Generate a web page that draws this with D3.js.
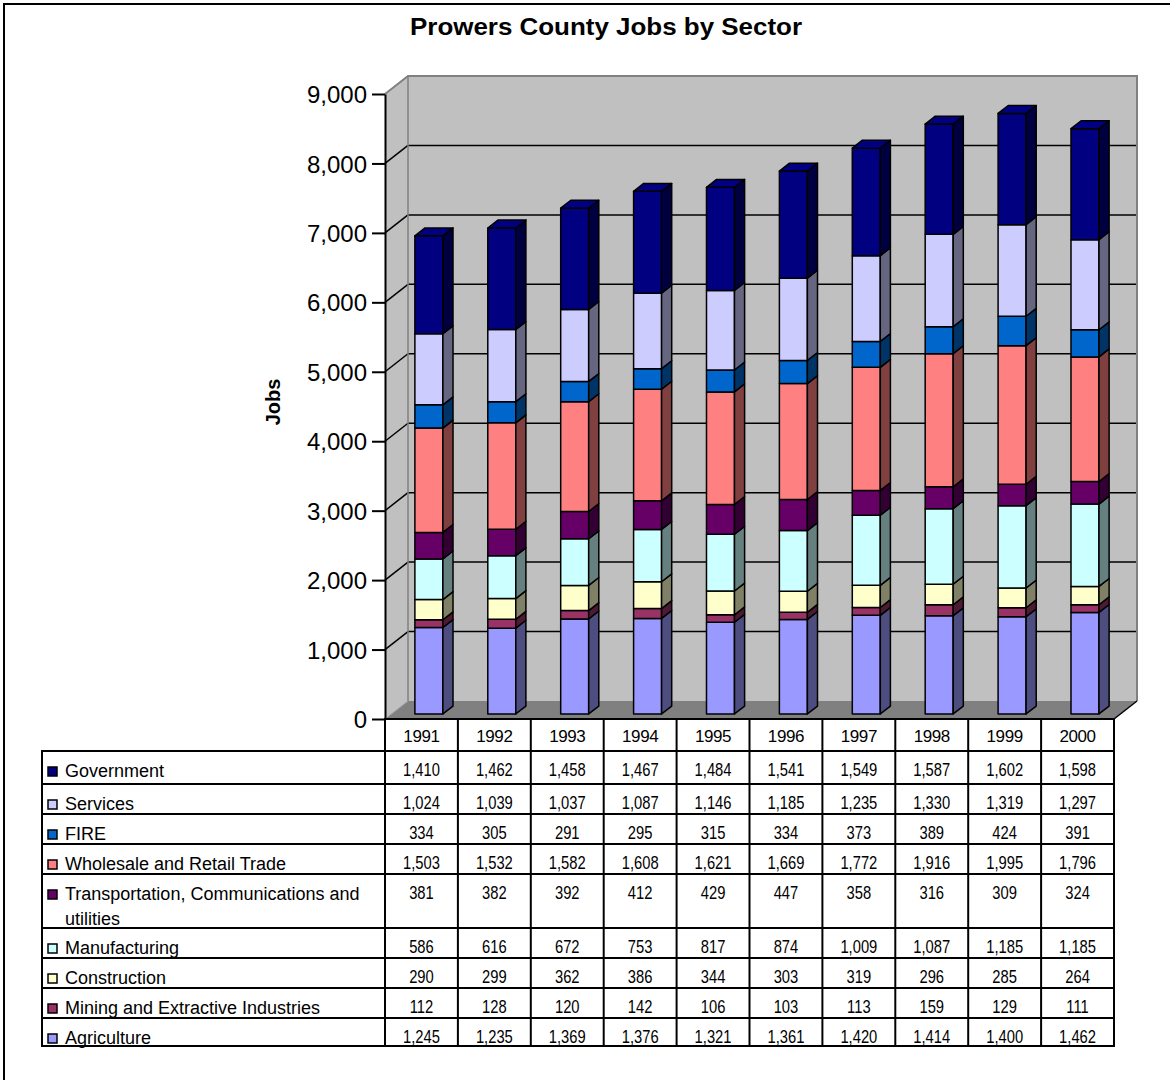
<!DOCTYPE html>
<html>
<head>
<meta charset="utf-8">
<script src="https://cdn.jsdelivr.net/npm/d3@7"></script>
<style>
  body { margin: 0; background: #fff; }
  svg { display: block; font-family: "Liberation Sans", Arial, sans-serif; }
</style>
</head>
<body>
<div id="chart"></div>
<script>
const years = [1991, 1992, 1993, 1994, 1995, 1996, 1997, 1998, 1999, 2000];
const yTicks = [0, 1000, 2000, 3000, 4000, 5000, 6000, 7000, 8000, 9000];

const agriculture    = [1245, 1235, 1369, 1376, 1321, 1361, 1420, 1414, 1400, 1462];
const mining         = [112, 128, 120, 142, 106, 103, 113, 159, 129, 111];
const construction   = [290, 299, 362, 386, 344, 303, 319, 296, 285, 264];
const manufacturing  = [586, 616, 672, 753, 817, 874, 1009, 1087, 1185, 1185];
const transportation = [381, 382, 392, 412, 429, 447, 358, 316, 309, 324];
const wholesale      = [1503, 1532, 1582, 1608, 1621, 1669, 1772, 1916, 1995, 1796];
const fire           = [334, 305, 291, 295, 315, 334, 373, 389, 424, 391];
const services       = [1024, 1039, 1037, 1087, 1146, 1185, 1235, 1330, 1319, 1297];
const government     = [1410, 1462, 1458, 1467, 1484, 1541, 1549, 1587, 1602, 1598];

// stack order, bottom to top
const series = [
  { key: "agriculture", name: "Agriculture", values: agriculture, color: "#9999FF" },
  { key: "mining", name: "Mining and Extractive Industries", values: mining, color: "#993366" },
  { key: "construction", name: "Construction", values: construction, color: "#FFFFCC" },
  { key: "manufacturing", name: "Manufacturing", values: manufacturing, color: "#CCFFFF" },
  { key: "transportation", name: "Transportation, Communications and utilities", values: transportation, color: "#660066" },
  { key: "wholesale", name: "Wholesale and Retail Trade", values: wholesale, color: "#FF8080" },
  { key: "fire", name: "FIRE", values: fire, color: "#0066CC" },
  { key: "services", name: "Services", values: services, color: "#CCCCFF" },
  { key: "government", name: "Government", values: government, color: "#000080" }
];

const W = 1170, H = 1080;
const plotLeft = 385, plotRight = 1114, plotTop = 94, floorY = 719;
const DX = 23, DY = -18;          // depth of the 3d box
const f0 = 0.28, f1 = 0.72;       // bars sit in the middle of the depth

const svg = d3.select("#chart").append("svg").attr("width", W).attr("height", H);

svg.append("rect").attr("x", 4).attr("y", 4).attr("width", W).attr("height", H)
  .attr("fill", "none").attr("stroke", "#000").attr("stroke-width", 2);

svg.append("text").attr("x", 606).attr("y", 35).attr("text-anchor", "middle")
  .attr("font-size", 23).attr("font-weight", "bold")
  .attr("textLength", 392).attr("lengthAdjust", "spacingAndGlyphs")
  .text("Prowers County Jobs by Sector");

const x = d3.scaleBand().domain(years).range([plotLeft, plotRight]).padding(0);
const y = d3.scaleLinear().domain([0, 9000]).range([floorY, plotTop]);

const shade = (c, k) => { const r = d3.rgb(c); return d3.rgb(r.r * k, r.g * k, r.b * k).formatHex(); };
const pts = arr => arr.map(p => p.join(",")).join(" ");

// walls and floor
const walls = svg.append("g");
walls.append("polygon")
  .attr("points", pts([[plotLeft + DX, y(9000) + DY], [plotRight + DX, y(9000) + DY], [plotRight + DX, floorY + DY], [plotLeft + DX, floorY + DY]]))
  .attr("fill", "#C0C0C0");
walls.append("polygon")
  .attr("points", pts([[plotLeft, y(9000)], [plotLeft + DX, y(9000) + DY], [plotLeft + DX, floorY + DY], [plotLeft, floorY]]))
  .attr("fill", "#C0C0C0");
walls.append("polygon")
  .attr("points", pts([[plotLeft, floorY], [plotLeft + DX, floorY + DY], [plotRight + DX, floorY + DY], [plotRight, floorY]]))
  .attr("fill", "#808080");

yTicks.filter(v => v > 0 && v < 9000).forEach(v => {
  walls.append("line").attr("x1", plotLeft + DX).attr("x2", plotRight + DX)
    .attr("y1", y(v) + DY).attr("y2", y(v) + DY).attr("stroke", "#000").attr("stroke-width", 1.5);
  walls.append("line").attr("x1", plotLeft).attr("x2", plotLeft + DX)
    .attr("y1", y(v)).attr("y2", y(v) + DY).attr("stroke", "#000").attr("stroke-width", 1.5);
});
walls.append("polyline")
  .attr("points", pts([[plotLeft, y(9000)], [plotLeft + DX, y(9000) + DY], [plotRight + DX, y(9000) + DY], [plotRight + DX, floorY + DY]]))
  .attr("fill", "none").attr("stroke", "#808080").attr("stroke-width", 2);
walls.append("line").attr("x1", plotLeft + DX).attr("x2", plotLeft + DX)
  .attr("y1", y(9000) + DY).attr("y2", floorY + DY).attr("stroke", "#808080").attr("stroke-width", 1.5);
walls.append("line").attr("x1", plotLeft).attr("x2", plotLeft + DX)
  .attr("y1", floorY).attr("y2", floorY + DY).attr("stroke", "#A0A0A0").attr("stroke-width", 1);
walls.append("line").attr("x1", plotRight).attr("x2", plotRight + DX)
  .attr("y1", floorY).attr("y2", floorY + DY).attr("stroke", "#000").attr("stroke-width", 1.5);

// stacked 3d bars
const rows = years.map((yr, i) => {
  const r = { year: yr };
  series.forEach(s => { r[s.key] = s.values[i]; });
  return r;
});
const stacked = d3.stack().keys(series.map(s => s.key))(rows);

const barW = 28;
const ddx = (f1 - f0) * DX, ddy = (f1 - f0) * DY;
const bars = svg.append("g").attr("stroke", "#000").attr("stroke-width", 1.5).attr("stroke-linejoin", "round");

years.forEach((yr, i) => {
  const x0 = x(yr) + (x.bandwidth() - barW) / 2 + f0 * DX + 1;
  const g = bars.append("g");
  stacked.forEach((layer, si) => {
    const d = layer[i];
    const yb = y(d[0]) + f0 * DY, yt = y(d[1]) + f0 * DY;
    const c = series[si].color;
    g.append("rect").attr("x", x0).attr("y", yt).attr("width", barW).attr("height", yb - yt).attr("fill", c);
    g.append("polygon")
      .attr("points", pts([[x0 + barW, yb], [x0 + barW + ddx, yb + ddy], [x0 + barW + ddx, yt + ddy], [x0 + barW, yt]]))
      .attr("fill", shade(c, 0.5));
    if (si === stacked.length - 1) {
      g.append("polygon")
        .attr("points", pts([[x0, yt], [x0 + barW, yt], [x0 + barW + ddx, yt + ddy], [x0 + ddx, yt + ddy]]))
        .attr("fill", c);
    }
  });
});

// value axis
const axis = svg.append("g").attr("transform", `translate(${plotLeft},0)`)
  .call(d3.axisLeft(y).tickValues(yTicks).tickFormat(d3.format(",")).tickSizeInner(13).tickSizeOuter(0).tickPadding(5));
axis.select(".domain").attr("stroke", "#000").attr("stroke-width", 2);
axis.selectAll(".tick line").attr("stroke", "#000").attr("stroke-width", 2);
axis.selectAll(".tick text").attr("font-size", 24).attr("fill", "#000")
  .attr("font-family", "'Liberation Sans', Arial, sans-serif").attr("dy", "0.36em");

svg.append("text").attr("transform", "translate(280,402) rotate(-90)")
  .attr("text-anchor", "middle").attr("font-size", 20).attr("font-weight", "bold").text("Jobs");

// data table
const table = svg.append("g");
const legendLeft = 42, headerTop = floorY, headerBottom = 751;
const tableRows = series.slice().reverse();
const lineStroke = (x1, y1, x2, y2) => table.append("line").attr("x1", x1).attr("y1", y1).attr("x2", x2).attr("y2", y2)
  .attr("stroke", "#000").attr("stroke-width", 2).attr("stroke-linecap", "square");

// label wrapping
const labelLines = tableRows.map(s => {
  const words = s.name.split(" ");
  const lines = [];
  let cur = "";
  const probe = svg.append("text").attr("font-size", 18);
  words.forEach(w => {
    const t = cur ? cur + " " + w : w;
    probe.text(t);
    if (probe.node().getComputedTextLength() > 312 && cur) { lines.push(cur); cur = w; } else cur = t;
  });
  lines.push(cur);
  probe.remove();
  return lines;
});

const rowTops = [];
let yy = headerBottom;
tableRows.forEach((s, i) => {
  rowTops.push(yy);
  let h = labelLines[i].length > 1 ? 54 : 30;
  if (i === 0) h = 33;
  if (i === tableRows.length - 1) h = 28;
  yy += h;
});
const tableBottom = yy;

years.forEach(yr => {
  table.append("text").attr("x", x(yr) + x.bandwidth() / 2).attr("y", headerTop + 23)
    .attr("text-anchor", "middle").attr("font-size", 17).attr("letter-spacing", -0.4).text(yr);
});

tableRows.forEach((s, i) => {
  const rt = rowTops[i];
  table.append("rect").attr("x", 48).attr("y", rt + 16).attr("width", 9).attr("height", 9)
    .attr("fill", s.color).attr("stroke", "#000").attr("stroke-width", 1.5);
  const t = table.append("text").attr("x", 65).attr("y", rt + 26).attr("font-size", 18);
  labelLines[i].forEach((ln, k) => {
    t.append("tspan").attr("x", 65).attr("dy", k === 0 ? 0 : 25).text(ln);
  });
  years.forEach((yr, j) => {
    const cx = x(yr) + x.bandwidth() / 2;
    table.append("text").attr("transform", `translate(${cx},${rt + 25}) scale(0.82,1)`)
      .attr("text-anchor", "middle").attr("font-size", 18).text(d3.format(",")(s.values[j]));
  });
});

// grid lines of the table
lineStroke(plotLeft, headerTop, plotRight, headerTop);
lineStroke(legendLeft, headerBottom, plotRight, headerBottom);
rowTops.slice(1).forEach(rt => lineStroke(legendLeft, rt, plotRight, rt));
lineStroke(legendLeft, tableBottom, plotRight, tableBottom);
lineStroke(legendLeft, headerBottom, legendLeft, tableBottom);
years.forEach(yr => lineStroke(x(yr), headerTop, x(yr), tableBottom));
lineStroke(plotRight, headerTop, plotRight, tableBottom);
</script>
</body>
</html>
